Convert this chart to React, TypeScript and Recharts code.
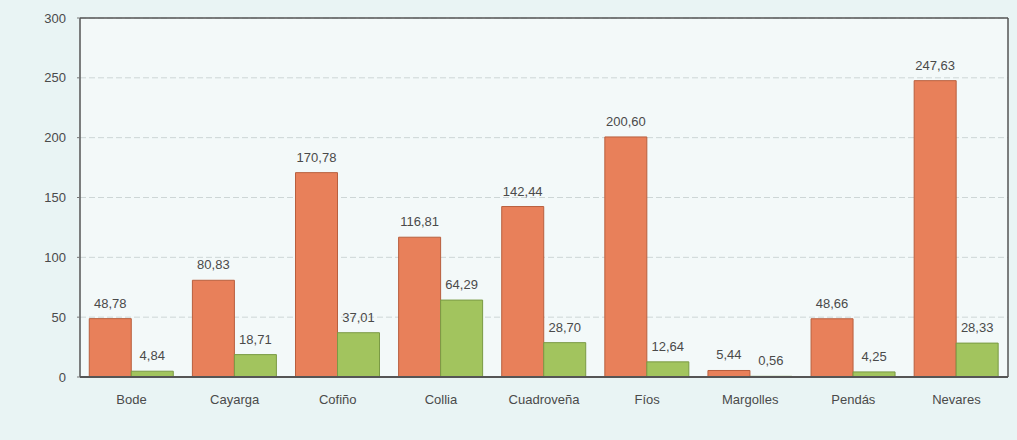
import React from "react";
import { BarChart, Bar, XAxis, YAxis, CartesianGrid, LabelList } from "recharts";

const categories = ["Bode", "Cayarga", "Cofiño", "Collia", "Cuadroveña", "Fíos", "Margolles", "Pendás", "Nevares"];
const orangeValues = [48.78, 80.83, 170.78, 116.81, 142.44, 200.6, 5.44, 48.66, 247.63];
const greenValues = [4.84, 18.71, 37.01, 64.29, 28.7, 12.64, 0.56, 4.25, 28.33];
const yTicks = [0, 50, 100, 150, 200, 250, 300];

const data = categories.map((name, i) => ({ name, a: orangeValues[i], b: greenValues[i] }));

const fmt = (v: any) => Number(v).toFixed(2).replace(".", ",");
const font = "'Liberation Sans', Arial, sans-serif";
const textStyle = { fill: "#4a4a4a", fontSize: 13, fontFamily: font };

export default function App() {
  return (
    <div style={{ position: "fixed", left: 0, top: 0, width: 1017, height: 440, background: "#e9f4f4" }}>
      <BarChart
        width={1017}
        height={440}
        data={data}
        margin={{ top: 18, right: 9, left: 10, bottom: 31 }}
        barCategoryGap="9%"
        barGap={0}
      >
        <CartesianGrid vertical={false} stroke="#cdd6d6" strokeDasharray="6 3" fill="#f3f9f9" />
        <CartesianGrid
          stroke="#555"
          strokeWidth={1.5}
          horizontalCoordinatesGenerator={({ offset }: any) => [offset.top]}
          verticalCoordinatesGenerator={({ offset }: any) => [offset.left + offset.width]}
        />
        <XAxis
          dataKey="name"
          axisLine={{ stroke: "#555", strokeWidth: 2 }}
          tickLine={false}
          tick={textStyle}
          tickMargin={12}
          height={32}
          interval={0}
        />
        <YAxis
          domain={[0, 300]}
          ticks={yTicks}
          axisLine={{ stroke: "#555", strokeWidth: 1.5 }}
          tickLine={{ stroke: "#777" }}
          tickSize={3}
          tickMargin={11}
          tick={textStyle}
          width={70}
          interval={0}
        />
        <Bar dataKey="a" fill="#e8805a" stroke="#b85f3e" strokeWidth={1} isAnimationActive={false}>
          <LabelList dataKey="a" position="top" offset={11} formatter={fmt} style={textStyle} />
        </Bar>
        <Bar dataKey="b" fill="#a2c45e" stroke="#7a9a44" strokeWidth={1} isAnimationActive={false}>
          <LabelList dataKey="b" position="top" offset={11} formatter={fmt} style={textStyle} />
        </Bar>
      </BarChart>
    </div>
  );
}
